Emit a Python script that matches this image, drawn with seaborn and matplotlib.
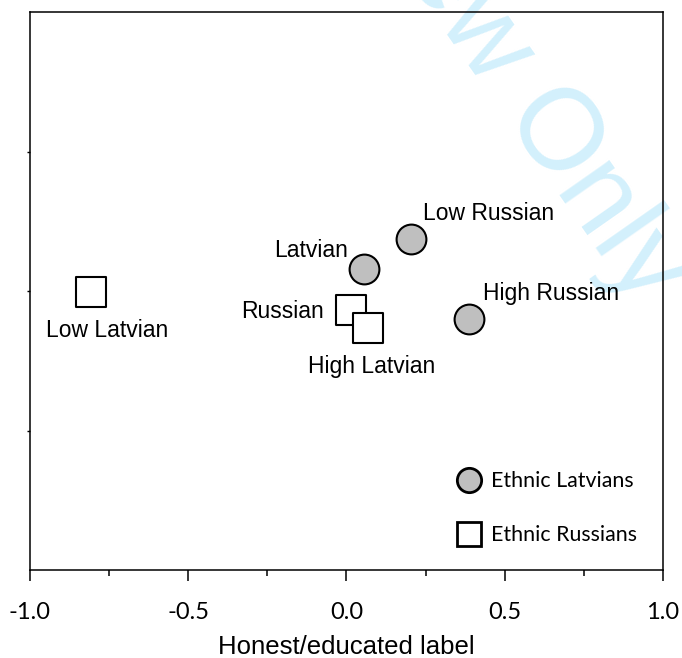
import pandas as pd
import matplotlib
matplotlib.use('Agg')
import matplotlib.pyplot as plt
import seaborn as sns
from matplotlib.lines import Line2D
from matplotlib.ticker import MultipleLocator

# perceived targets, rated by ethnic Latvians (circles)
lat_labels = ['Latvian', 'Low Russian', 'High Russian']
lat_x = [0.055, 0.204, 0.387]
lat_y = [0.080, 0.185, -0.100]

# perceived targets, rated by ethnic Russians (squares)
rus_labels = ['Low Latvian', 'Russian', 'High Latvian']
rus_x = [-0.808, 0.014, 0.069]
rus_y = [-0.003, -0.067, -0.133]

x_ticks = [-1.0, -0.5, 0.0, 0.5, 1.0]
legend_labels = ['Ethnic Latvians', 'Ethnic Russians']

# label placement: (dx, dy) in points, horizontal alignment
lat_offsets = [(-11.5, 8.4, 'right'), (8.6, 14.0, 'left'), (10.1, 13.7, 'left')]
rus_offsets = [(11.5, -32.2, 'center'), (-19.3, -6.0, 'right'), (2.7, -32.4, 'center')]

sns.set_style('white')
plt.rcParams['font.family'] = ['Liberation Sans', 'DejaVu Sans']
plt.rcParams['text.color'] = 'black'
plt.rcParams['axes.labelcolor'] = 'black'
plt.rcParams['xtick.color'] = 'black'
plt.rcParams['ytick.color'] = 'black'

df_lat = pd.DataFrame({'x': lat_x, 'y': lat_y, 'label': lat_labels})
df_rus = pd.DataFrame({'x': rus_x, 'y': rus_y, 'label': rus_labels})

fig = plt.figure(figsize=(6.82, 6.58), dpi=100)
ax = fig.add_axes([30/682, 1 - 570/658, 633/682, 558/658])
ax.set_facecolor('none')

sns.scatterplot(data=df_lat, x='x', y='y', ax=ax, marker='o', s=460,
                color='#bfbfbf', edgecolor='black', linewidth=1.5, zorder=3)
sns.scatterplot(data=df_rus, x='x', y='y', ax=ax, marker='s', s=460,
                color='white', edgecolor='black', linewidth=1.5, zorder=3)

for df, offs in [(df_lat, lat_offsets), (df_rus, rus_offsets)]:
    for (_, row), (dx, dy, ha) in zip(df.iterrows(), offs):
        ax.annotate(row['label'], (row['x'], row['y']), xytext=(dx, dy),
                    textcoords='offset points', ha=ha, va='baseline',
                    fontsize=16.5, color='black')

ax.set_xlim(-1, 1)
ax.set_ylim(-1, 1)
ax.set_xticks(x_ticks)
ax.set_xticklabels([f'{t:.1f}' for t in x_ticks], family=['Lato', 'DejaVu Sans'], fontsize=17)
ax.xaxis.set_minor_locator(MultipleLocator(0.25))
ax.set_yticks([-0.5, 0.0, 0.5])
ax.set_yticklabels([])
ax.tick_params(axis='x', which='major', direction='out', length=8, width=1.1, pad=15, colors='black')
ax.tick_params(axis='x', which='minor', direction='out', length=4, width=1.1)
ax.tick_params(axis='y', direction='out', length=2, width=1)
ax.tick_params(bottom=True, left=True, which='both')
ax.tick_params(axis='y', which='minor', left=False)
for sp in ax.spines.values():
    sp.set_visible(True)
    sp.set_linewidth(1.1)
    sp.set_color('black')
ax.set_xlabel('Honest/educated label', fontsize=18.5, labelpad=9)
ax.set_ylabel('')

handles = [
    Line2D([], [], marker='o', linestyle='none', markersize=17.5,
           markerfacecolor='#bfbfbf', markeredgecolor='black', markeredgewidth=2),
    Line2D([], [], marker='s', linestyle='none', markersize=17.5,
           markerfacecolor='white', markeredgecolor='black', markeredgewidth=2),
]
ax.legend(handles, legend_labels, loc='upper left', bbox_to_anchor=(458/682, 1 - 471/658),
          bbox_transform=fig.transFigure, frameon=False, borderpad=0, borderaxespad=0,
          handlelength=1.0, handletextpad=0.55, labelspacing=1.6,
          prop={'family': ['Lato', 'DejaVu Sans'], 'size': 15.4})

# watermark
fig.text(268/682, 1 + 221/658, 'Review Only', rotation=-55, rotation_mode='anchor',
         ha='left', va='baseline', fontsize=83, color='#d3f0fc', zorder=-1)

fig.savefig('out.png', dpi=100)
